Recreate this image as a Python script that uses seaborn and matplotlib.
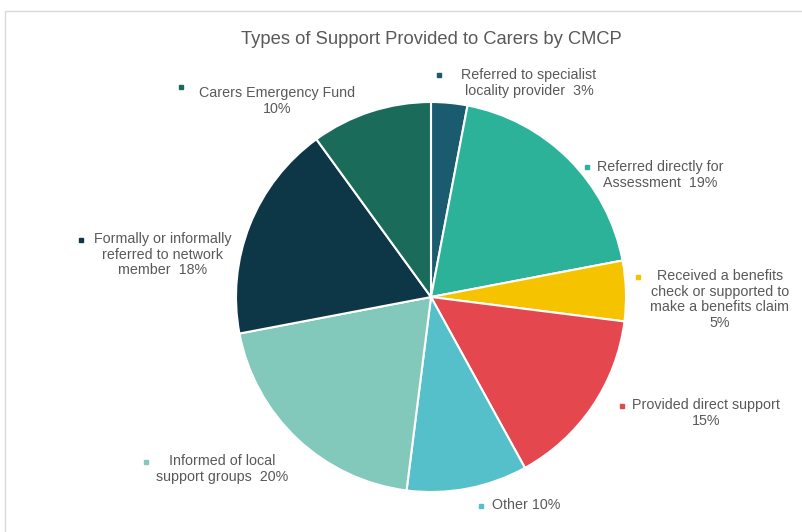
import matplotlib
matplotlib.use("Agg")
import matplotlib.pyplot as plt
from matplotlib.patches import Rectangle
import seaborn as sns

# Support categories, in clockwise order from 12 o'clock
categories = [
    "Referred to specialist\nlocality provider",
    "Referred directly for\nAssessment",
    "Received a benefits\ncheck or supported to\nmake a benefits claim",
    "Provided direct support",
    "Other",
    "Informed of local\nsupport groups",
    "Formally or informally\nreferred to network\nmember",
    "Carers Emergency Fund",
]
shares = [3, 19, 5, 15, 10, 20, 18, 10]
label_texts = [
    "Referred to specialist\nlocality provider  3%",
    "Referred directly for\nAssessment  19%",
    "Received a benefits\ncheck or supported to\nmake a benefits claim\n5%",
    "Provided direct support\n15%",
    "Other 10%",
    "Informed of local\nsupport groups  20%",
    "Formally or informally\nreferred to network\nmember  18%",
    "Carers Emergency Fund\n10%",
]
slice_colors = ["#1a5b70", "#2bb299", "#f6c300", "#e5474f",
                "#55bfca", "#82c9bc", "#0d3646", "#1b6b5a"]

sns.set_theme(style="white")
plt.rcParams["font.family"] = ["Liberation Sans", "DejaVu Sans"]

W, H = 803, 532
fig = plt.figure(figsize=(W / 100, H / 100), dpi=100)
ax = fig.add_axes([0, 0, 1, 1])
ax.set_xlim(0, W)
ax.set_ylim(H, 0)
ax.set_axis_off()

# chart-area frame
fig.patches.append(Rectangle((5 / W, -0.1), 1.1, 1 - 11 / H + 0.1,
                             transform=fig.transFigure, fill=False,
                             edgecolor="#d9d9d9", linewidth=1.0))

palette = sns.color_palette(slice_colors)

# pie drawn in an overlay axes with y pointing up
pie_ax = fig.add_axes([0, 0, 1, 1])
pie_ax.set_xlim(0, W)
pie_ax.set_ylim(0, H)
pie_ax.set_aspect("equal")
pie_ax.set_axis_off()
cx, cy, r = 431, H - 297, 195
pie_ax.pie(shares, colors=palette, startangle=90, counterclock=False,
           center=(cx, cy), radius=r, frame=True,
           wedgeprops=dict(edgecolor="white", linewidth=1.5))
pie_ax.set_xlim(0, W)
pie_ax.set_ylim(0, H)
pie_ax.set_axis_off()

text_color = "#595959"
ax.text(431, 40, "Types of Support Provided to Carers by CMCP",
        ha="center", va="center", fontsize=13.2, color=text_color)

# label layout: (text centre x, first line centre y, marker x, marker y)
label_layout = [
    (529, 76, 439, 75),
    (660, 168, 587, 167),
    (720, 277, 638, 277),
    (706, 406, 622, 406),
    (526, 506, 481, 506),
    (222, 462, 146, 462),
    (163, 240, 81, 240),
    (277, 94, 181, 87),
]
line_h = 16.7
for txt, (tx, ty, mx, my), col in zip(label_texts, label_layout, palette):
    ax.text(tx, ty - line_h / 2, txt, ha="center", va="top",
            multialignment="center", fontsize=10.3, color=text_color,
            linespacing=1.17)
    ax.plot(mx, my, marker="s", markersize=3.2, color=col, linestyle="none")

fig.savefig("out.png", dpi=100, facecolor="white")
